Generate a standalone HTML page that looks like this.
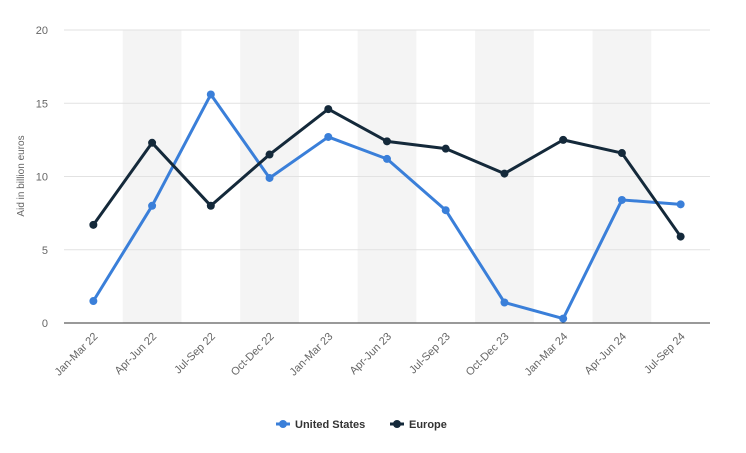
<!DOCTYPE html>
<html><head><meta charset="utf-8"><style>
body{margin:0;background:#fff;font-family:"Liberation Sans",sans-serif}
</style></head><body>
<svg id="chart" width="746" height="448" xmlns="http://www.w3.org/2000/svg"></svg>
<script>
const categories=["Jan-Mar 22","Apr-Jun 22","Jul-Sep 22","Oct-Dec 22","Jan-Mar 23","Apr-Jun 23","Jul-Sep 23","Oct-Dec 23","Jan-Mar 24","Apr-Jun 24","Jul-Sep 24"];
const usValues=[1.5,8.0,15.6,9.9,12.7,11.2,7.7,1.4,0.3,8.4,8.1];
const europeValues=[6.7,12.3,8.0,11.5,14.6,12.4,11.9,10.2,12.5,11.6,5.9];
const yTicks=[0,5,10,15,20];
const svg=document.getElementById('chart');
const NS="http://www.w3.org/2000/svg";
const L=64,R=710,T=30,B=323,yMax=20;
const step=(R-L)/categories.length;
const x=i=>L+step*(i+0.5);
const y=v=>B-(v/yMax)*(B-T);
function el(t,a,p){const e=document.createElementNS(NS,t);for(const k in a)e.setAttribute(k,a[k]);(p||svg).appendChild(e);return e;}
categories.forEach((c,i)=>{if(i%2===1){const b=el('rect',{x:x(i)-step/2,y:T,width:step,height:B-T,fill:'#f4f4f4'});

}});
yTicks.forEach(t=>{const g=el('line',{x1:L,x2:R,y1:y(t),y2:y(t),stroke:'#e2e2e2'});


const tx=el('text',{x:48,y:y(t)+4,'text-anchor':'end','font-size':11,fill:'#666'});tx.textContent=t;

});
const ax=el('line',{x1:L,x2:R,y1:B,y2:B,stroke:'#333','stroke-width':1});


const yt=el('text',{x:0,y:0,transform:'translate(24,176) rotate(-90)','text-anchor':'middle','font-size':10,fill:'#666'});yt.textContent='Aid in billion euros';


categories.forEach((c,i)=>{const t=el('text',{x:0,y:0,transform:`translate(${x(i)+5},${B+14}) rotate(-45)`,'text-anchor':'end','font-size':11,fill:'#666'});t.textContent=c;

});
function series(vals,color,name){const p=el('polyline',{points:vals.map((v,i)=>x(i)+','+y(v)).join(' '),fill:'none',stroke:color,'stroke-width':3,'stroke-linejoin':'round'});


vals.forEach((v,i)=>{const c=el('circle',{cx:x(i),cy:y(v),r:4,fill:color});

});}
series(usValues,'#3a7fd9','us');
series(europeValues,'#14293a','europe');
const lg=[['United States','#3a7fd9',276],['Europe','#14293a',390]];
lg.forEach(([n,c,lx])=>{const l=el('line',{x1:lx,x2:lx+14,y1:424,y2:424,stroke:c,'stroke-width':3});


el('circle',{cx:lx+7,cy:424,r:4,fill:c});
const t=el('text',{x:lx+19,y:428,'font-size':11,'font-weight':'bold',fill:'#333'});t.textContent=n;

});
</script>
</body></html>
